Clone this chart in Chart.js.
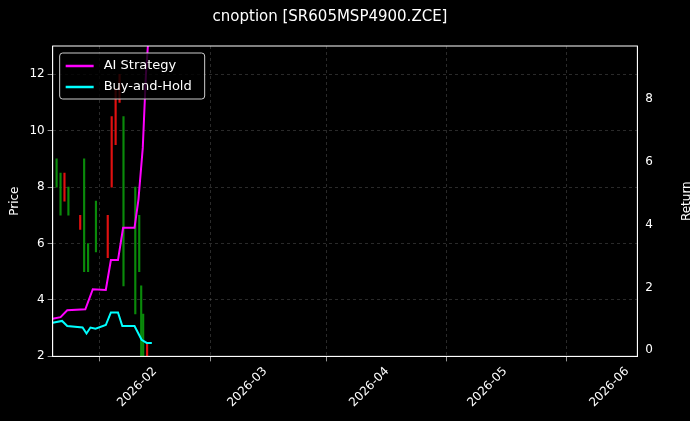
<!DOCTYPE html>
<html>
<head>
<meta charset="utf-8">
<script src="https://cdn.jsdelivr.net/npm/chart.js@4.4.1/dist/chart.umd.min.js"></script>
<style>
  html, body { margin: 0; background: #000; }
  #wrap { width: 690px; height: 421px; position: relative; }
</style>
</head>
<body>
<div id="wrap"><canvas id="c"></canvas></div>
<script>
// x values are days since 2026-01-01 (day 0 = Jan 1)
const candleDays  = [6, 7, 8, 9, 12, 13, 14, 16, 19, 20, 21, 22, 23, 26, 27, 27.5, 28, 29];
const candleLow   = [8.0, 7.0, 7.5, 7.0, 6.5, 5.0, 5.0, 5.7, 5.5, 8.0, 9.5, 11.0, 4.5, 3.5, 5.0, 1.8, 2.0, 2.0];
const candleHigh  = [9.0, 8.5, 8.5, 8.0, 7.0, 9.0, 6.0, 7.5, 7.0, 10.5, 11.5, 12.0, 10.5, 8.0, 7.0, 4.5, 3.5, 2.5];
const candleUp    = [1, 1, 0, 1, 0, 1, 1, 1, 0, 0, 0, 0, 1, 1, 1, 1, 1, 0];

const aiDays   = [5, 7, 8.7, 13.3, 15.2, 18.5, 19.8, 21.6, 22.9, 25.8, 26.8, 27.9, 28.7, 29.2];
const aiReturn = [1.0, 1.05, 1.27, 1.3, 1.94, 1.92, 2.87, 2.87, 3.9, 3.9, 4.8, 6.45, 8.8, 9.7];

const bhDays   = [5, 7.4, 8.7, 12.6, 13.6, 14.6, 15.9, 18.5, 19.8, 21.6, 22.7, 25.8, 27.6, 28.9, 30.2];
const bhReturn = [0.87, 0.93, 0.77, 0.72, 0.53, 0.72, 0.68, 0.8, 1.2, 1.2, 0.77, 0.77, 0.33, 0.23, 0.23];

const monthTicks  = [31, 59, 90, 120, 151];
const monthLabels = ['2026-02', '2026-03', '2026-04', '2026-05', '2026-06'];

const FONT = "'DejaVu Sans', sans-serif";
const gridStyle = { color: 'rgba(140,140,140,0.5)', lineWidth: 0.6, tickColor: '#fff', tickLength: 5 };
const borderStyle = { color: '#fff', dash: [3, 3] };

const bgPlugin = {
    id: 'bg',
    beforeDraw(chart) {
        const c = chart.ctx;
        c.save();
        c.fillStyle = '#000';
        c.fillRect(0, 0, chart.width, chart.height);
        c.restore();
    },
};

// solid frame, inside legend and right axis title
const overlayPlugin = {
    id: 'overlay',
    afterDraw(chart) {
        const c = chart.ctx;
        const a = chart.chartArea;
        c.save();
        c.strokeStyle = '#fff';
        c.lineWidth = 1;
        c.strokeRect(a.left, a.top, a.right - a.left, a.bottom - a.top);

        const x = a.left + 7, y = a.top + 7;
        c.fillStyle = 'rgba(0,0,0,0.8)';
        c.strokeStyle = '#ccc';
        c.beginPath();
        c.roundRect(x, y, 145, 46, 3);
        c.fill();
        c.stroke();
        const items = [['AI Strategy', '#ff00ff'], ['Buy-and-Hold', '#00ffff']];
        c.font = '13px ' + FONT;
        c.textBaseline = 'middle';
        items.forEach(([label, col], i) => {
            const ly = y + 13 + i * 21;
            c.strokeStyle = col;
            c.lineWidth = 2.5;
            c.beginPath();
            c.moveTo(x + 6, ly);
            c.lineTo(x + 34, ly);
            c.stroke();
            c.fillStyle = '#fff';
            c.fillText(label, x + 44, ly);
        });

        c.translate(a.right + 50, (a.top + a.bottom) / 2);
        c.rotate(-Math.PI / 2);
        c.font = '12px ' + FONT;
        c.textAlign = 'center';
        c.fillStyle = '#fff';
        c.fillText('Return', 0, 0);
        c.restore();
    },
};

new Chart(document.getElementById('c'), {
    data: {
        datasets: [
            {
                type: 'line',
                label: 'AI Strategy',
                data: aiDays.map((d, i) => ({ x: d, y: aiReturn[i] })),
                yAxisID: 'y2',
                borderColor: '#ff00ff',
                borderWidth: 2,
                pointRadius: 0,
                tension: 0,
                order: 1,
            },
            {
                type: 'line',
                label: 'Buy-and-Hold',
                data: bhDays.map((d, i) => ({ x: d, y: bhReturn[i] })),
                yAxisID: 'y2',
                borderColor: '#00ffff',
                borderWidth: 2,
                pointRadius: 0,
                tension: 0,
                order: 1,
            },
            {
                type: 'bar',
                label: 'Candles',
                data: candleDays.map((d, i) => ({ x: d, y: [candleLow[i], candleHigh[i]] })),
                yAxisID: 'y',
                backgroundColor: candleUp.map(u => u ? '#0a8a0a' : '#e01010'),
                barThickness: 1.5,
                grouped: false,
                order: 2,
            },
        ],
    },
    options: {
        responsive: true,
        maintainAspectRatio: false,
        animation: false,
        layout: { padding: { left: 4, right: 34, top: 4, bottom: 8 } },
        plugins: {
            legend: { display: false },
            tooltip: { enabled: false },
            title: {
                display: true,
                text: 'cnoption [SR605MSP4900.ZCE]',
                color: '#fff',
                font: { family: FONT, size: 15, weight: 'normal' },
                padding: { top: 4, bottom: 20 },
            },
        },
        scales: {
            x: {
                type: 'linear',
                min: 5,
                max: 153.6,
                offset: false,
                grid: gridStyle,
                border: borderStyle,
                afterBuildTicks: axis => { axis.ticks = monthTicks.map(v => ({ value: v })); },
                ticks: {
                    color: '#fff',
                    font: { family: FONT, size: 12 },
                    maxRotation: 45,
                    minRotation: 45,
                    callback: v => monthLabels[monthTicks.indexOf(v)] || '',
                },
            },
            y: {
                position: 'left',
                min: 2,
                max: 13,
                grid: gridStyle,
                border: borderStyle,
                afterBuildTicks: axis => { axis.ticks = [2, 4, 6, 8, 10, 12].map(v => ({ value: v })); },
                ticks: { color: '#fff', font: { family: FONT, size: 12 } },
                title: { display: true, text: 'Price', color: '#fff', font: { family: FONT, size: 12 } },
            },
            y2: {
                position: 'right',
                min: -0.2,
                max: 9.7,
                grid: { display: false, tickColor: '#fff', tickLength: 5, drawOnChartArea: false },
                border: { color: '#fff' },
                afterBuildTicks: axis => { axis.ticks = [0, 2, 4, 6, 8].map(v => ({ value: v })); },
                ticks: { color: '#fff', font: { family: FONT, size: 12 } },
            },
        },
    },
    plugins: [bgPlugin, overlayPlugin],
});
</script>
</body>
</html>
